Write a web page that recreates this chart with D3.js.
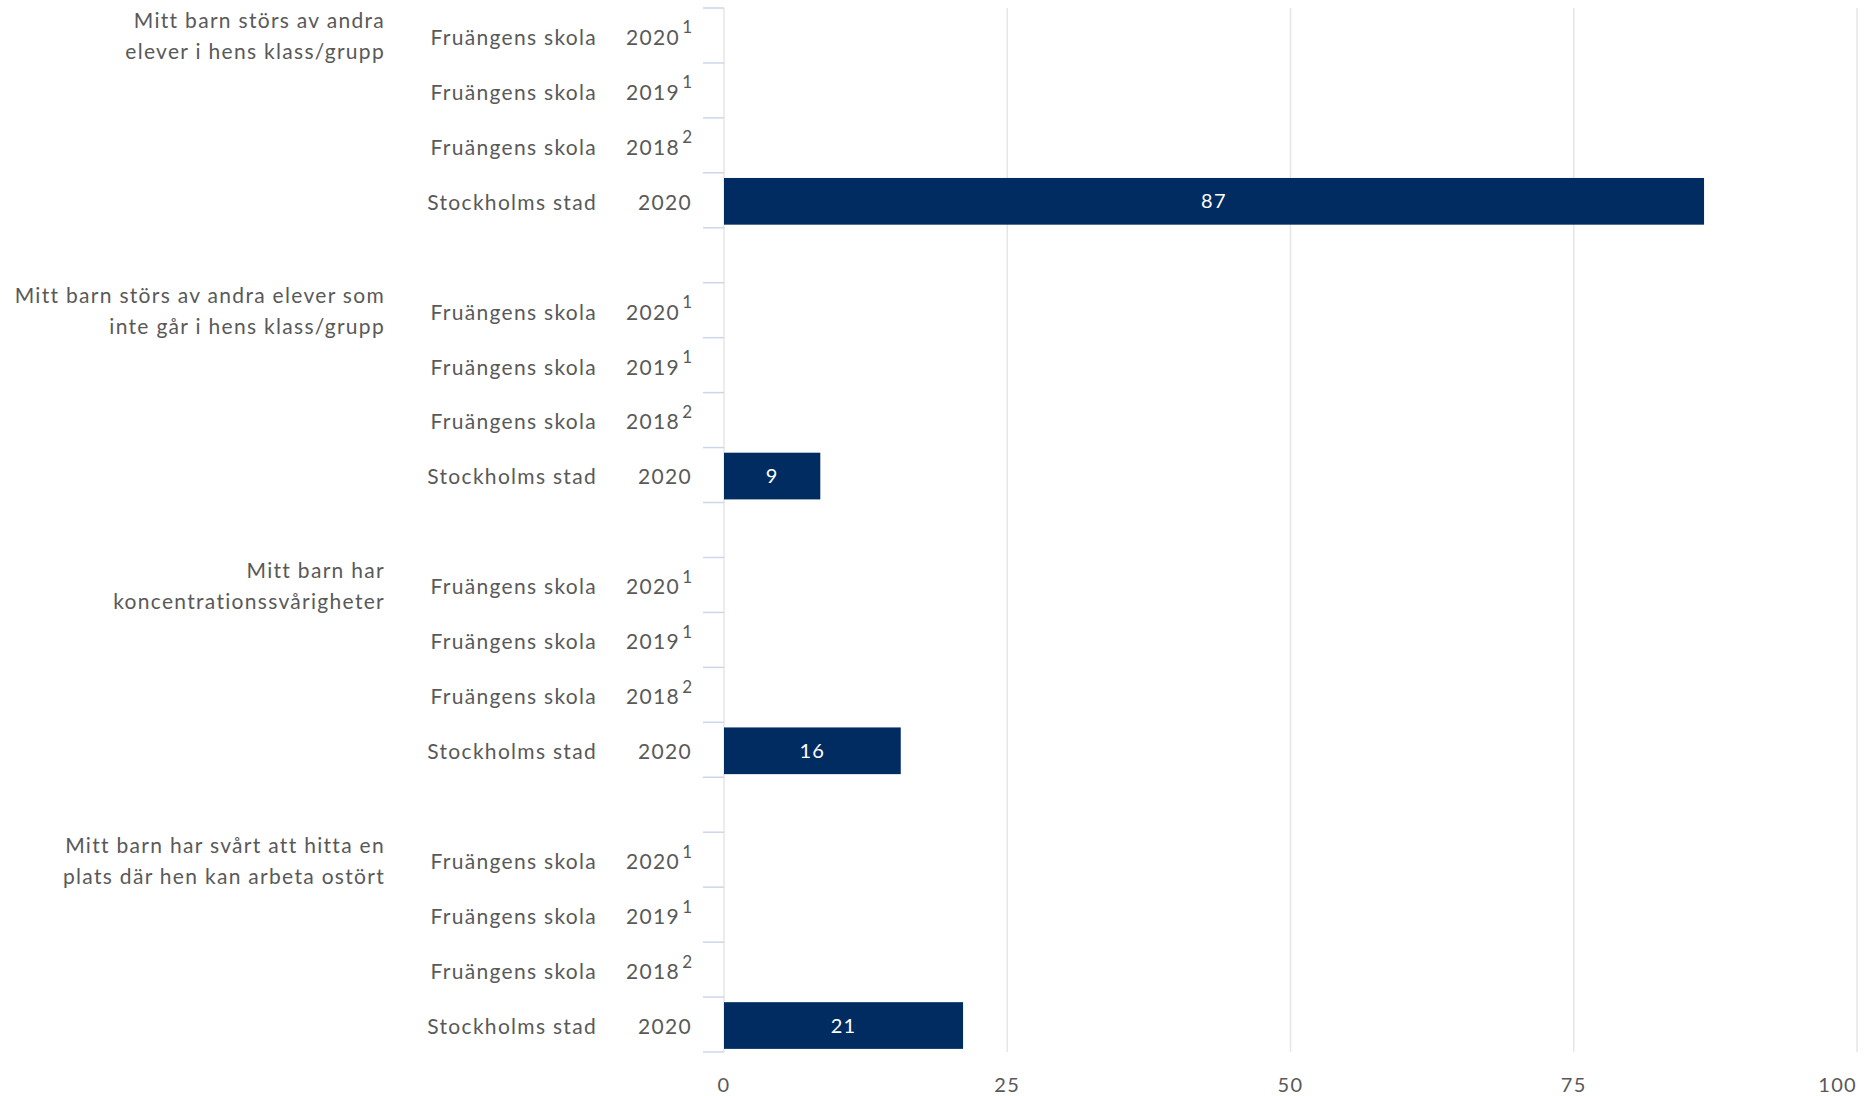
<!DOCTYPE html>
<html>
<head>
<meta charset="utf-8">
<script src="https://cdn.jsdelivr.net/npm/d3@7"></script>
<style>
  body { margin: 0; background: #fff; }
  svg text { font-family: Lato, "Open Sans", sans-serif; fill: #595959; letter-spacing: 1.3px; }
</style>
</head>
<body>
<svg id="chart" width="1875" height="1096"></svg>
<script>
// question texts, split on two lines like the original
var groupLabels = [
  ["Mitt barn störs av andra", "elever i hens klass/grupp"],
  ["Mitt barn störs av andra elever som", "inte går i hens klass/grupp"],
  ["Mitt barn har", "koncentrationssvårigheter"],
  ["Mitt barn har svårt att hitta en", "plats där hen kan arbeta ostört"]
];

// the four rows repeated in each group
var rowUnits = ["Fruängens skola", "Fruängens skola", "Fruängens skola", "Stockholms stad"];
var rowYears = ["2020", "2019", "2018", "2020"];
var rowNotes = ["1", "1", "2", ""];

// percent per group, one per row (null = no bar shown)
var values = [
  [null, null, null, 86.5],
  [null, null, null, 8.5],
  [null, null, null, 15.6],
  [null, null, null, 21.1]
];

var xTicks = [0, 25, 50, 75, 100];

var margin = {top: 8, left: 724, right: 18, bottom: 44},
    width  = 1875,
    height = 1096;

var svg = d3.select("#chart");

// build row keys with an empty band between the groups
var keys = [];
groupLabels.forEach(function(g, gi) {
  rowUnits.forEach(function(u, ri) { keys.push(gi + "-" + ri); });
  if (gi < groupLabels.length - 1) keys.push(gi + "-gap");
});

var xscale = d3.scaleLinear().domain([0, 100]).range([margin.left, width - margin.right]);
var yscale = d3.scaleBand().domain(keys).range([margin.top, height - margin.bottom]).padding(0);

var plotTop = margin.top, plotBottom = height - margin.bottom;

// vertical gridlines
svg.append("g").selectAll("line")
   .data(xTicks)
   .join("line")
   .attr("x1", function(d) { return xscale(d); })
   .attr("x2", function(d) { return xscale(d); })
   .attr("y1", plotTop)
   .attr("y2", plotBottom)
   .attr("stroke", "#e6e6e6")
   .attr("stroke-width", 1.5);

// ticks at every band boundary
var bounds = keys.map(function(k) { return yscale(k); }).concat([plotBottom]);
svg.append("g").selectAll("line")
   .data(bounds)
   .join("line")
   .attr("x1", xscale(0) - 21)
   .attr("x2", xscale(0))
   .attr("y1", function(d) { return d; })
   .attr("y2", function(d) { return d; })
   .attr("stroke", "#ccd6eb")
   .attr("stroke-width", 1.5);

// bars
var barData = [];
values.forEach(function(row, gi) {
  row.forEach(function(v, ri) {
    if (v != null) barData.push({key: gi + "-" + ri, value: v});
  });
});

var barH = yscale.bandwidth() * 0.85;
var bars = svg.append("g");
bars.selectAll("rect")
    .data(barData)
    .join("rect")
    .attr("x", xscale(0))
    .attr("y", function(d) { return yscale(d.key) + (yscale.bandwidth() - barH) / 2 + 1; })
    .attr("width", function(d) { return xscale(d.value) - xscale(0); })
    .attr("height", barH)
    .attr("fill", "#002c62");

bars.selectAll("text")
    .data(barData)
    .join("text")
    .attr("x", function(d) { return (xscale(0) + xscale(d.value)) / 2; })
    .attr("y", function(d) { return yscale(d.key) + yscale.bandwidth() / 2 + 1; })
    .attr("dy", "0.35em")
    .attr("text-anchor", "middle")
    .style("fill", "#fff")
    .style("font-size", "20px")
    .text(function(d) { return Math.round(d.value); });

// row labels: unit, year and footnote
var rowG = svg.append("g");
var rowData = [];
groupLabels.forEach(function(g, gi) {
  rowUnits.forEach(function(u, ri) {
    rowData.push({key: gi + "-" + ri, unit: u, year: rowYears[ri], note: rowNotes[ri]});
  });
});

rowG.selectAll("text.unit")
    .data(rowData)
    .join("text")
    .attr("class", "unit")
    .attr("x", 597)
    .attr("y", function(d) { return yscale(d.key) + yscale.bandwidth() / 2 + 2; })
    .attr("dy", "0.35em")
    .attr("text-anchor", "end")
    .style("font-size", "21px")
    .text(function(d) { return d.unit; });

rowG.selectAll("text.year")
    .data(rowData)
    .join("text")
    .attr("class", "year")
    .attr("x", function(d) { return d.note ? 680 : 692; })
    .attr("y", function(d) { return yscale(d.key) + yscale.bandwidth() / 2 + 2; })
    .attr("dy", "0.35em")
    .attr("text-anchor", "end")
    .style("font-size", "21px")
    .text(function(d) { return d.year; });

rowG.selectAll("text.note")
    .data(rowData.filter(function(d) { return d.note; }))
    .join("text")
    .attr("class", "note")
    .attr("x", 692)
    .attr("y", function(d) { return yscale(d.key) + yscale.bandwidth() / 2 - 8; })
    .attr("dy", "0.35em")
    .attr("text-anchor", "end")
    .style("font-size", "17px")
    .style("letter-spacing", "0px")
    .text(function(d) { return d.note; });

// question labels, right aligned at the left
var qG = svg.append("g");
groupLabels.forEach(function(lines, gi) {
  var top = yscale(gi + "-0");
  var t = qG.append("text")
            .attr("text-anchor", "end")
            .style("font-size", "21px");
  lines.forEach(function(line, li) {
    t.append("tspan")
     .attr("x", 385)
     .attr("y", top + 13 + li * 31)
     .attr("dy", "0.35em")
     .text(line);
  });
});

// x axis labels, the last one kept inside the page
svg.append("g").selectAll("text")
   .data(xTicks)
   .join("text")
   .attr("x", function(d) { return xscale(d); })
   .attr("y", 1085)
   .attr("dy", "0.35em")
   .attr("text-anchor", function(d, i) { return i === xTicks.length - 1 ? "end" : "middle"; })
   .style("font-size", "20px")
   .text(function(d) { return d; });
</script>
</body>
</html>
